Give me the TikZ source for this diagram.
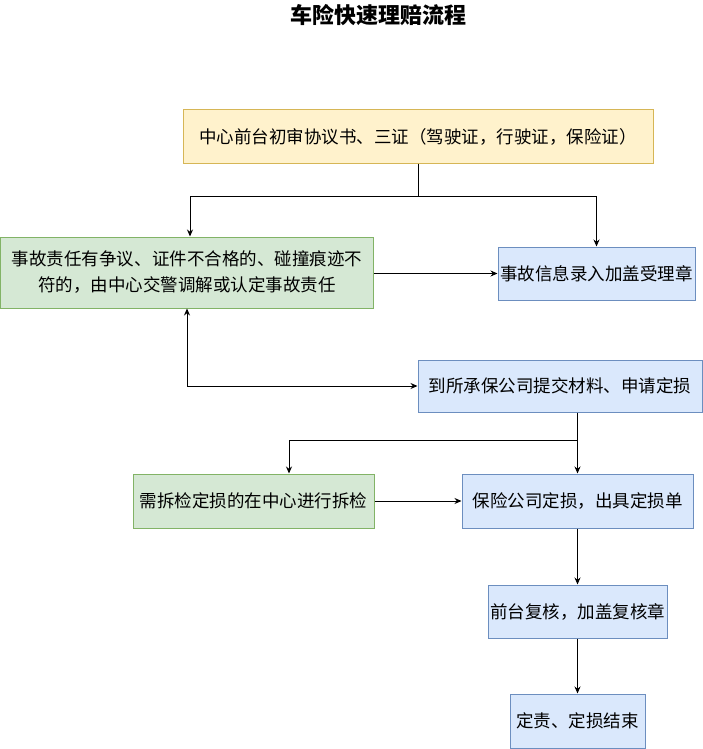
\documentclass[tikz,border=0pt]{standalone}
\usepackage{fontspec}
\setmainfont{Noto Sans CJK SC}
\usepackage{xcolor}
\usepackage{tikz}
\usetikzlibrary{positioning, arrows.meta, calc}

\definecolor{ylwfill}{HTML}{FFF2CC}
\definecolor{ylwline}{HTML}{D6B656}
\definecolor{grnfill}{HTML}{D5E8D4}
\definecolor{grnline}{HTML}{82B366}
\definecolor{blufill}{HTML}{DAE8FC}
\definecolor{bluline}{HTML}{6C8EBF}

\begin{document}
\begin{tikzpicture}[
  x=1pt, y=-1pt,
  proc/.style={draw, line width=1pt, align=center, inner sep=0pt, font=\fontsize{17.5}{26}\selectfont},
  ylw/.style={proc, fill=ylwfill, draw=ylwline},
  grn/.style={proc, fill=grnfill, draw=grnline},
  blu/.style={proc, fill=blufill, draw=bluline},
  op/.style={-{Stealth[length=7pt, width=6pt]}, line width=1pt},
  biop/.style={{Stealth[length=7pt, width=6pt]}-{Stealth[length=7pt, width=6pt]}, line width=1pt}
]
  \useasboundingbox (0,0) rectangle (703,749);
  \node[font=\fontsize{22}{26}\selectfont\bfseries] (title) at (378,15) {车险快速理赔流程};

  \node[ylw, minimum width=470pt, minimum height=53pt] (chk) at (418,136.5) {中心前台初审协议书、三证（驾驶证，行驶证，保险证）};
  \node[grn, minimum width=373pt, minimum height=71pt] (disp) at (187,272.5) {事故责任有争议、证件不合格的、碰撞痕迹不\\符的，由中心交警调解或认定事故责任};
  \node[blu, minimum width=197pt, minimum height=53pt] (rec) at (596.5,273.5) {事故信息录入加盖受理章};
  \node[blu, minimum width=284pt, minimum height=52pt] (sub) at (560,386) {到所承保公司提交材料、申请定损};
  \node[grn, minimum width=241pt, minimum height=54pt] (dis) at (253.5,501) {需拆检定损的在中心进行拆检};
  \node[blu, minimum width=231pt, minimum height=54pt] (ass) at (577.5,501) {保险公司定损，出具定损单};
  \node[blu, minimum width=179pt, minimum height=53pt] (rev) at (577.5,611.5) {前台复核，加盖复核章};
  \node[blu, minimum width=135pt, minimum height=54pt] (fin) at (577.5,721) {定责、定损结束};

  \coordinate (j1) at (418,196);
  \coordinate (j2) at (577.5,440);
  \draw[line width=1pt] (chk.south) -- (j1);
  \draw[op] (j1) -| ([xshift=3pt]disp.north);
  \draw[op] (j1) -| (rec.north);
  \draw[op] (disp.east |- rec.west) -- (rec.west);
  \draw[biop] (disp.south) |- (sub.west);
  \draw[line width=1pt] (j2 |- sub.south) -- (j2);
  \draw[op] (j2) -| ([xshift=35.5pt]dis.north);
  \draw[op] (j2) -- (ass.north);
  \draw[op] (dis.east) -- (ass.west);
  \draw[op] (ass.south) -- (rev.north);
  \draw[op] (rev.south) -- (fin.north);
\end{tikzpicture}
\end{document}
